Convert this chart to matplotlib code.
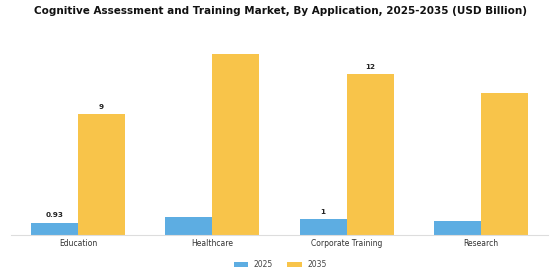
import matplotlib
matplotlib.use("Agg")
import matplotlib.pyplot as plt
import numpy as np

categories = ["Education", "Healthcare", "Corporate Training", "Research"]
values_2025 = [0.93, 1.35, 1.2, 1.05]
values_2035 = [9.0, 13.5, 12.0, 10.6]
labels_2025 = ["0.93", "", "1", ""]
labels_2035 = ["9", "", "12", ""]
series_names = ["2025", "2035"]

c25 = "#5DADE2"
c35 = "#F8C44A"

fig = plt.figure(figsize=(5.6, 2.8), dpi=100)
ax = fig.add_axes([11/560, 45/280, 537/560, 195/280])

x = np.arange(len(categories))
w = 0.35
b1 = ax.bar(x - w/2, values_2025, w, color=c25, label=series_names[0])
b2 = ax.bar(x + w/2, values_2035, w, color=c35, label=series_names[1])

for bars, labels in ((b1, labels_2025), (b2, labels_2035)):
    for rect, lab in zip(bars, labels):
        if lab:
            ax.annotate(lab, (rect.get_x() + rect.get_width()/2, rect.get_height()),
                        xytext=(0, 3), textcoords="offset points", ha="center", va="bottom",
                        fontsize=5.2, fontweight="bold", color="#222222")

ax.set_xlim(-0.5, 3.5)
ax.set_ylim(0, 14.55)
ax.set_xticks(x)
ax.set_xticklabels(categories, fontsize=5.5, color="#333333")
ax.tick_params(axis="x", length=0, pad=3)
ax.set_yticks([])
for s in ["top", "right", "left"]:
    ax.spines[s].set_visible(False)
ax.spines["bottom"].set_color("#dddddd")
ax.spines["bottom"].set_linewidth(0.8)

fig.suptitle("Cognitive Assessment and Training Market, By Application, 2025-2035 (USD Billion)",
             fontsize=7.5, fontweight="bold", y=0.978, color="#111111")

fig.legend(loc="lower center", bbox_to_anchor=(0.5, 0.015), ncol=2, frameon=False,
           fontsize=5.5, handlelength=1.9, handleheight=0.7, columnspacing=1.9,
           handletextpad=0.7, labelcolor="#444444")

fig.savefig("out.png", dpi=100)
